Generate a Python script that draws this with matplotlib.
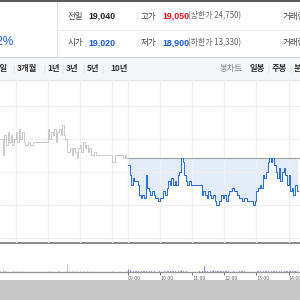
import numpy as np
import matplotlib
matplotlib.use('Agg')
import matplotlib.pyplot as plt
from matplotlib.patches import Rectangle

plt.rcParams['font.family'] = ['Noto Sans CJK KR', 'DejaVu Sans']

# 전일 (gray) / 당일 (blue) price, one value every 3 minutes
prev_price = [19100, 19100, 19050, 19110, 19080, 19120, 19090, 19110, 19080, 19100,
              19120, 19090, 19130, 19100, 19120, 19090, 19080, 19080, 19090, 19080,
              19080, 19090, 19090, 19090, 19090, 19090, 19090, 19090, 19090, 19090,
              19130, 19100, 19120, 19110, 19130, 19090, 19120, 19130, 19110, 19140,
              19110, 19100, 19060, 19060, 19070, 19050, 19070, 19060, 19040, 19070,
              19080, 19060, 19090, 19070, 19080, 19060, 19070, 19050, 19050, 19060,
              19050, 19050, 19050, 19050, 19050, 19050, 19050, 19050, 19050, 19050,
              19030, 19030, 19050, 19050, 19050, 19050, 19050, 19040, 19050, 19040]
today_price = [19020, 18990, 18960, 18980, 18970, 18970, 18960, 18930, 18920, 18930,
               18920, 18990, 18950, 18940, 18930, 18940, 18930, 18920, 18920, 18910,
               18920, 18920, 18940, 18930, 18950, 18970, 18960, 18980, 18960, 18970,
               18960, 18990, 19000, 19040, 19030, 18990, 18970, 18960, 18970, 18960,
               18960, 18960, 18960, 18960, 18960, 18960, 18930, 18940, 18930, 18920,
               18940, 18930, 18920, 18930, 18910, 18900, 18900, 18910, 18930, 18920,
               18930, 18910, 18930, 18940, 18940, 18950, 18940, 18940, 18930, 18920,
               18920, 18910, 18920, 18920, 18910, 18910, 18910, 18910, 18900, 18910,
               18940, 18950, 18960, 18950, 18990, 18980, 19000, 19030, 19040, 19030,
               19040, 19020, 19000, 18980, 19010, 18970, 19000, 19010, 18990, 18960,
               18990, 18940, 18950, 18930, 18960, 18940]
prev_vol = [3, 2, 8, 2, 3, 1, 2, 1, 2, 1, 2, 1, 3, 1, 2, 1, 1, 1, 1, 1,
            1, 1, 1, 1, 1, 1, 1, 1, 1, 1, 2, 1, 2, 1, 3, 1, 2, 2, 1, 3,
            1, 2, 30, 4, 2, 3, 2, 1, 3, 2, 2, 1, 2, 1, 2, 1, 1, 2, 1, 1,
            1, 1, 1, 1, 1, 1, 1, 1, 1, 1, 2, 1, 1, 1, 1, 1, 1, 1, 1, 2]
today_vol = [10, 6, 4, 5, 3, 2, 3, 4, 5, 3, 2, 4, 3, 2, 2, 1, 2, 1, 1, 2,
             1, 1, 2, 1, 2, 3, 2, 3, 2, 2, 1, 3, 4, 6, 3, 3, 2, 1, 1, 1,
             1, 1, 1, 1, 2, 1, 3, 20, 4, 3, 2, 3, 2, 8, 3, 4, 2, 2, 3, 2,
             2, 2, 2, 1, 1, 2, 1, 1, 1, 2, 2, 3, 5, 2, 1, 1, 1, 1, 2, 1,
             2, 2, 3, 2, 3, 2, 3, 3, 4, 3, 2, 2, 2, 3, 2, 2, 1, 2, 2, 2,
             3, 2, 2, 2, 3, 2]
prev_close = 19040
hour_labels = ['09:00', '10:00', '11:00', '12:00', '13:00', '14:00']
price_grid = [18800, 18900, 19000, 19100, 19200]

BLUE = '#2f6fd6'
TXT_BLUE = '#1a5ad8'
RED = '#e3141c'
NUM_FONT = ['Liberation Sans', 'DejaVu Sans']

fig = plt.figure(figsize=(3, 3), dpi=100)
fig.patch.set_facecolor('white')

# background / header in pixel coords
bg = fig.add_axes([0, 0, 1, 1])
bg.set_xlim(0, 300)
bg.set_ylim(300, 0)
bg.axis('off')

bg.add_patch(Rectangle((0, 0), 300, 1.5, color='#5a5a5a', lw=0))
bg.plot([56.5, 56.5], [2, 56], color='#e2e2e2', lw=0.8)
bg.plot([57, 300], [29.5, 29.5], color='#ececec', lw=0.8)
bg.add_patch(Rectangle((0, 57), 300, 23, color='#f5f6f7', lw=0))
bg.plot([0, 300], [57, 57], color='#d4d4d4', lw=0.8)
bg.plot([0, 300], [80, 80], color='#e4e4e4', lw=0.8)
bg.add_patch(Rectangle((0, 280), 300, 20, color='#c8c8c8', lw=0))
bg.plot([0, 300], [243, 243], color='#8a8a8a', lw=1.4)
bg.plot([0, 300], [272, 272], color='#9a9a9a', lw=1.0)

bg.text(14, 42, '-0.42%', color=TXT_BLUE, fontsize=8.5, family=NUM_FONT,
        ha='right', va='center')

rows = [(16, '전일', '19,040', '#222222', '고가', '19,050', RED, '(상한가 24,750)'),
        (43, '시가', '19,020', TXT_BLUE, '저가', '18,900', TXT_BLUE, '(하한가 13,330)')]
for y, l1, v1, c1, l2, v2, c2, lim in rows:
    bg.text(68, y, l1, color='#444444', fontsize=6.1, va='center')
    bg.text(88, y, v1, color=c1, fontsize=6.4, fontweight='bold', family=NUM_FONT, va='center')
    bg.text(136, y, '|', color='#cccccc', fontsize=5.5, va='center')
    bg.text(141, y, l2, color='#444444', fontsize=6.1, va='center')
    bg.text(162, y, v2, color=c2, fontsize=6.4, fontweight='bold', family=NUM_FONT, va='center')
    bg.text(188, y, lim, color='#666666', fontsize=5.7, va='center')
    bg.text(279, y, '|', color='#cccccc', fontsize=5.5, va='center')
    bg.text(283, y, '거래량', color='#444444', fontsize=6.1, va='center')

tabs = [(8, '1주일', 'right'), (17, '3개월', 'left'), (47, '1년', 'left'),
        (66, '3년', 'left'), (87, '5년', 'left'), (110, '10년', 'left')]
for x, s, ha in tabs:
    bg.text(x, 69, s, color='#333333', fontsize=6, fontweight='bold', ha=ha, va='center')
for x in [13, 44, 62, 83, 102]:
    bg.text(x, 69, '|', color='#d0d0d0', fontsize=5, ha='center', va='center')
bg.text(220, 69, '봉차트', color='#8a8a8a', fontsize=6, va='center')
bg.text(250, 69, '일봉', color='#333333', fontsize=6, fontweight='bold', va='center')
bg.text(268, 69, '|', color='#d0d0d0', fontsize=5, ha='center', va='center')
bg.text(272, 69, '주봉', color='#333333', fontsize=6, fontweight='bold', va='center')
bg.text(290, 69, '|', color='#d0d0d0', fontsize=5, ha='center', va='center')
bg.text(294, 69, '분봉', color='#333333', fontsize=6, fontweight='bold', va='center')

# x in minutes, today 09:00 = 0
px_per_min = 0.535
x0, x1 = -128 / px_per_min, (300 - 128) / px_per_min
prev_x = np.arange(len(prev_price)) * 3 - 3 * len(prev_price)
today_x = np.arange(len(today_price)) * 3
prev_xe = np.append(prev_x, 0)
prev_ye = np.append(prev_price, prev_price[-1])
today_xe = np.append(today_x, today_x[-1] + 3)
today_ye = np.append(today_price, today_price[-1])

# price chart, pixel rows 80..243
ax = fig.add_axes([0, (300 - 243) / 300, 1, (243 - 80) / 300])
ax.patch.set_alpha(0)
ax.set_xlim(x0, x1)
ax.set_ylim(19000 - (243 - 171.5) / 0.33, 19000 + (171.5 - 80) / 0.33)
for s in ax.spines.values():
    s.set_visible(False)
ax.set_xticks([-210, -150, -90, -30, 0, 60, 120, 180, 240, 300])
ax.set_yticks(price_grid)
ax.tick_params(length=0, labelbottom=False, labelleft=False)
ax.grid(True, color='#efefef', lw=0.9)

ax.fill_between(today_xe, today_ye, prev_close, step='post', color='#e3ecf9', lw=0)
ax.plot([0, x1], [prev_close, prev_close], color='#a0a0a0', lw=0.8)
ax.step(prev_xe, prev_ye, where='post', color='#c2c2c2', lw=0.6)
ax.step(today_xe, today_ye, where='post', color=BLUE, lw=0.75)

# volume, pixel rows 243..272
vx = fig.add_axes([0, (300 - 272) / 300, 1, (272 - 244) / 300])
vx.patch.set_alpha(0)
vx.set_xlim(x0, x1)
vx.set_ylim(0, 100)
vx.bar(prev_x + 1.5, prev_vol, width=1.6, color='#c9c9c9', lw=0)
vx.bar(today_x + 1.5, today_vol, width=1.6, color='#9d92d6', lw=0)
for s in vx.spines.values():
    s.set_visible(False)
vx.set_yticks([])
vx.set_xticks(np.arange(len(hour_labels)) * 60)
vx.set_xticklabels(hour_labels)
vx.tick_params(axis='x', direction='out', length=2.5, width=0.7, color='#777777',
               pad=0.5, labelsize=3.8, labelcolor='#666666')
for lab in vx.get_xticklabels():
    lab.set_horizontalalignment('left')

fig.savefig('out.png', dpi=100)
